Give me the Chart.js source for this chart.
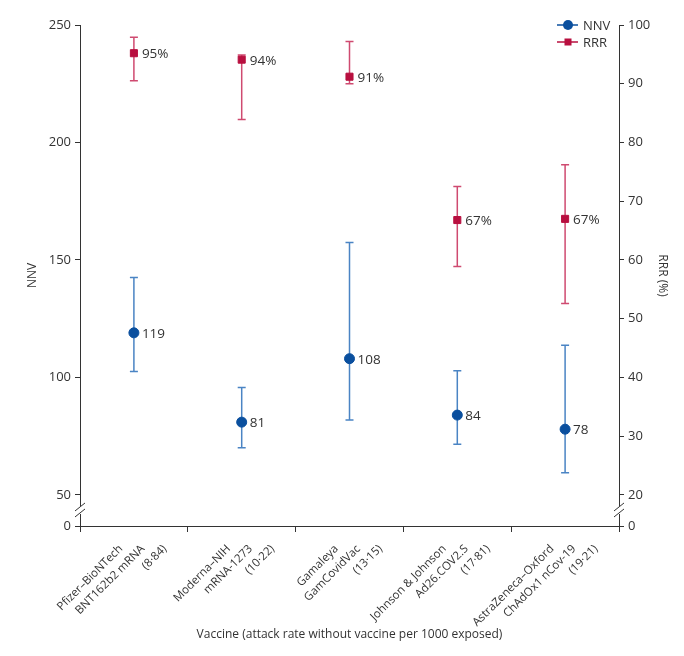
<!DOCTYPE html>
<html>
<head>
<meta charset="utf-8">
<script src="https://cdn.jsdelivr.net/npm/chart.js@4"></script>
<style>
  html, body { margin: 0; padding: 0; background: #fff; }
  #wrap { width: 684px; height: 656px; }
</style>
</head>
<body>
<div id="wrap"><canvas id="chart"></canvas></div>
<script>
// vaccines (x axis)
vaccineLabels = [
  ['Pfizer–BioNTech', 'BNT162b2 mRNA', '(8·84)'],
  ['Moderna–NIH', 'mRNA-1273', '(10·22)'],
  ['Gamaleya', 'GamCovidVac', '(13·15)'],
  ['Johnson & Johnson', 'Ad26.COV2.S', '(17·81)'],
  ['AstraZeneca–Oxford', 'ChAdOx1 nCov-19', '(19·21)']
]
// number needed to vaccinate, left axis
nnvValues = [119, 81, 108, 84, 78]
nnvLow = [102.5, 70.1, 81.9, 71.6, 59.5]
nnvHigh = [142.5, 95.7, 157.4, 102.9, 113.7]
// relative risk reduction (%), right axis
rrrValues = [95.2, 94.1, 91.2, 66.8, 67]
rrrLow = [90.5, 83.9, 90, 58.9, 52.6]
rrrHigh = [97.9, 94.9, 97.2, 72.5, 76.2]
rrrText = ['95%', '94%', '91%', '67%', '67%']
// tick labels
nnvTicks = [50, 100, 150, 200, 250]
rrrTicks = [20, 30, 40, 50, 60, 70, 80, 90, 100]

// broken axes: bottom of each axis is shown as 0
nnvMin = 36.8
rrrMin = 14.72

blueDark = '#0a4f9e'
blueBar = '#4a84c4'
redDark = '#b80f3f'
redBar = '#cf4a70'
textColor = '#333'
fontFamily = "'Open Sans', 'Noto Sans', sans-serif"

// error bars, value labels, x labels, axis breaks and legend
extras = {
  id: 'extras',
  beforeDatasetsDraw: function(chart) {
    ctx = chart.ctx
    xs = chart.scales.x
    drawBars = function(axis, low, high, color) {
      ys = chart.scales[axis]
      ctx.save()
      ctx.strokeStyle = color
      ctx.lineWidth = 1.5
      low.forEach(function(lo, i) {
        x = xs.getPixelForValue(i)
        y1 = ys.getPixelForValue(lo)
        y2 = ys.getPixelForValue(high[i])
        ctx.beginPath()
        ctx.moveTo(x, y1); ctx.lineTo(x, y2)
        ctx.moveTo(x - 4, y1); ctx.lineTo(x + 4, y1)
        ctx.moveTo(x - 4, y2); ctx.lineTo(x + 4, y2)
        ctx.stroke()
      })
      ctx.restore()
    }
    drawBars('y', nnvLow, nnvHigh, blueBar)
    drawBars('y1', rrrLow, rrrHigh, redBar)
  },
  afterDatasetsDraw: function(chart) {
    ctx = chart.ctx
    xs = chart.scales.x
    area = chart.chartArea
    ctx.save()
    ctx.fillStyle = textColor
    ctx.font = '13.5px ' + fontFamily
    ctx.textBaseline = 'middle'
    nnvValues.forEach(function(v, i) {
      ctx.fillText(String(v), xs.getPixelForValue(i) + 8, chart.scales.y.getPixelForValue(v) + 1)
    })
    rrrValues.forEach(function(v, i) {
      ctx.fillText(rrrText[i], xs.getPixelForValue(i) + 8, chart.scales.y1.getPixelForValue(v) + 1)
    })

    // x labels, rotated, line ends kept on one row
    ctx.font = '11.5px ' + fontFamily
    ctx.textAlign = 'right'
    vaccineLabels.forEach(function(lines, i) {
      x = xs.getPixelForValue(i)
      lines.forEach(function(line, k) {
        ctx.save()
        ctx.translate(x - 13 + k * 22, area.bottom + 21)
        ctx.rotate(-Math.PI / 4)
        ctx.fillText(line, 0, 0)
        ctx.restore()
      })
    })
    ctx.textAlign = 'left'

    // axis break marks
    ctx.strokeStyle = '#333'
    ctx.lineWidth = 1
    breakMark = function(x, y) {
      ctx.fillStyle = '#fff'
      ctx.fillRect(x - 2, y - 4, 4, 8)
      ctx.beginPath()
      ctx.moveTo(x - 5, y + 1); ctx.lineTo(x + 5, y - 7)
      ctx.moveTo(x - 5, y + 7); ctx.lineTo(x + 5, y - 1)
      ctx.stroke()
    }
    breakMark(area.left, chart.scales.y.getPixelForValue(50) + 15)
    breakMark(area.right, chart.scales.y1.getPixelForValue(20) + 15)

    // legend
    lx = area.right - 62
    ctx.font = '13px ' + fontFamily
    ctx.lineWidth = 1.5
    ;[['NNV', blueDark, 'circle', 25], ['RRR', redDark, 'rect', 42]].forEach(function(item) {
      ctx.strokeStyle = item[1]
      ctx.beginPath()
      ctx.moveTo(lx, item[3]); ctx.lineTo(lx + 21, item[3])
      ctx.stroke()
      ctx.fillStyle = item[1]
      if (item[2] == 'circle') {
        ctx.beginPath(); ctx.arc(lx + 11, item[3], 5, 0, Math.PI * 2); ctx.fill()
      } else {
        ctx.fillRect(lx + 7.5, item[3] - 3.5, 7, 7)
      }
      ctx.fillStyle = textColor
      ctx.fillText(item[0], lx + 26, item[3] + 1)
    })
    ctx.restore()
  }
}

ctx = document.getElementById('chart')
config = {
  type: 'line',
  data: {
    labels: vaccineLabels,
    datasets: [{
      label: 'NNV',
      data: nnvValues,
      yAxisID: 'y',
      showLine: false,
      pointStyle: 'circle',
      pointRadius: 5,
      pointBackgroundColor: blueDark,
      pointBorderColor: blueDark,
      borderColor: blueDark
    }, {
      label: 'RRR',
      data: rrrValues,
      yAxisID: 'y1',
      showLine: false,
      pointStyle: 'rect',
      pointRadius: 5,
      pointBackgroundColor: redDark,
      pointBorderColor: redDark,
      borderColor: redDark
    }]
  },
  options: {
    responsive: true,
    maintainAspectRatio: false,
    animation: false,
    layout: { padding: { top: 25, right: 0, left: 0, bottom: 0 } },
    plugins: { legend: { display: false }, tooltip: { enabled: false } },
    scales: {
      x: {
        offset: true,
        afterFit: function(scale) { scale.height = 130 },
        grid: { offset: true, drawOnChartArea: false, color: '#333', tickLength: 6, tickColor: '#333' },
        border: { color: '#333', width: 1 },
        ticks: { display: false },
        title: { display: true, text: 'Vaccine (attack rate without vaccine per 1000 exposed)', color: textColor, font: { family: fontFamily, size: 12 }, padding: { top: 0, bottom: 14 } }
      },
      y: {
        position: 'left',
        min: nnvMin,
        max: 250,
        afterFit: function(scale) { scale.width = 80 },
        afterBuildTicks: function(scale) {
          scale.ticks = [{ value: nnvMin }].concat(nnvTicks.map(function(v) { return { value: v } }))
        },
        grid: { drawOnChartArea: false, color: '#333', tickLength: 5 },
        border: { color: '#333', width: 1 },
        ticks: {
          color: textColor, font: { family: fontFamily, size: 13 }, padding: 4,
          callback: function(v) { return v == nnvMin ? '0' : v }
        },
        title: { display: true, text: 'NNV', color: textColor, font: { family: fontFamily, size: 12 }, padding: { top: 25, bottom: 0 } }
      },
      y1: {
        position: 'right',
        min: rrrMin,
        max: 100,
        afterFit: function(scale) { scale.width = 65 },
        afterBuildTicks: function(scale) {
          scale.ticks = [{ value: rrrMin }].concat(rrrTicks.map(function(v) { return { value: v } }))
        },
        grid: { drawOnChartArea: false, color: '#333', tickLength: 5 },
        border: { color: '#333', width: 1 },
        ticks: {
          color: textColor, font: { family: fontFamily, size: 13 }, padding: 4,
          callback: function(v) { return v == rrrMin ? '0' : v }
        },
        title: { display: true, text: 'RRR (%)', color: textColor, font: { family: fontFamily, size: 12 }, padding: { top: 14, bottom: 0 } }
      }
    }
  },
  plugins: [extras]
}
createNewChart = new Chart(ctx, config)
</script>
</body>
</html>
